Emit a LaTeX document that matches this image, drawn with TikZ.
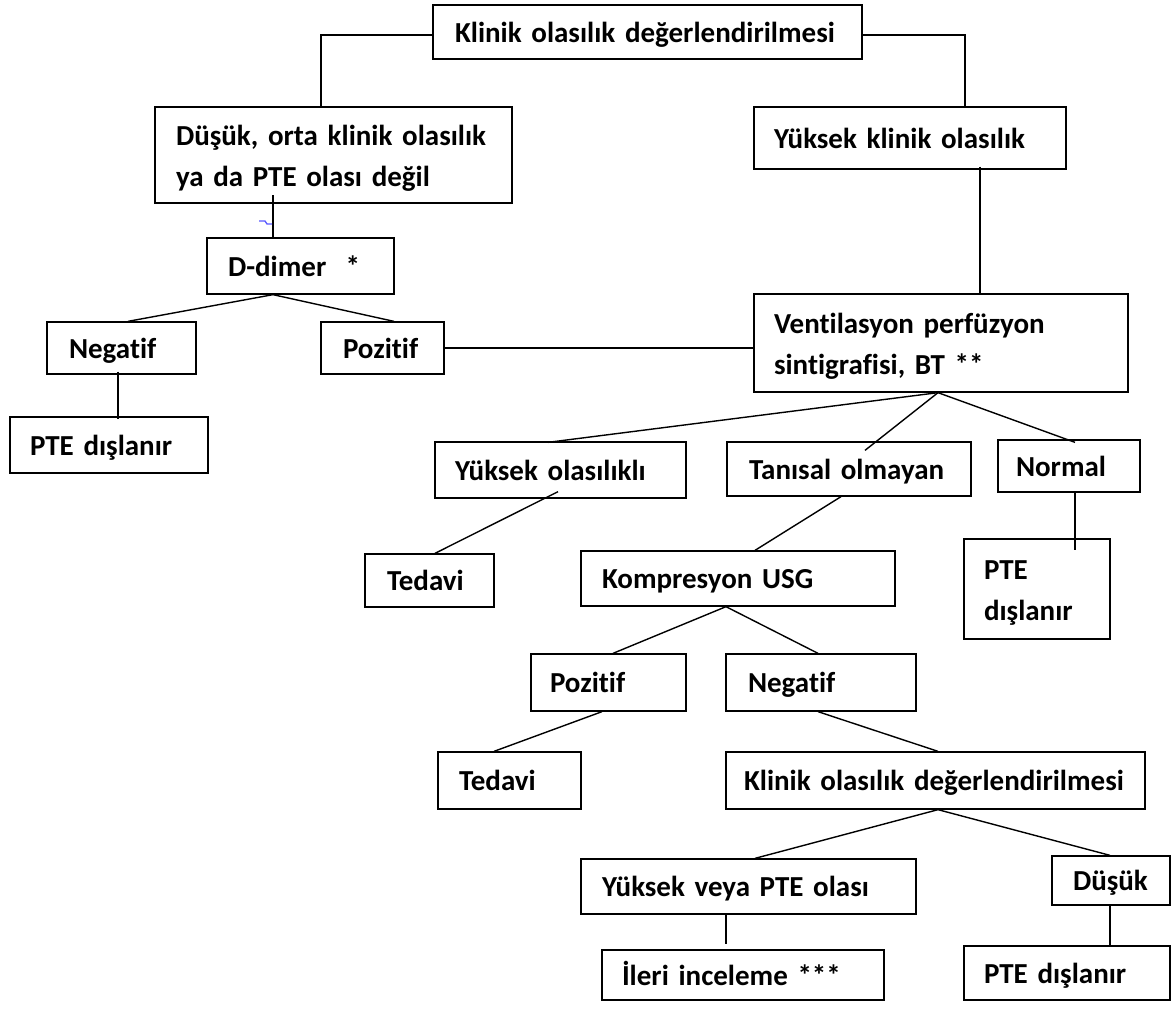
\documentclass[tikz,border=0pt]{standalone}
\usepackage{fontspec}
\setmainfont{Carlito}[Ligatures={NoCommon}]
\newcommand{\bxstrut}{\rule[-6pt]{0pt}{32pt}}
\begin{document}
\begin{tikzpicture}[x=1pt,y=-1pt,
  bx/.style={draw=black, line width=1.3pt, align=left, inner ysep=0pt, anchor=center,
    font=\fontsize{29}{41}\selectfont\bfseries, execute at begin node={\bxstrut}},
  ln/.style={line width=1.4pt, draw=black}]
\useasboundingbox (0,0) rectangle (1173,1015);
\node[bx, text width=385pt, inner xsep=22pt, minimum height=54pt] (top) at (647.5,32) {Klinik olasılık değerlendirilmesi};
\node[bx, text width=315pt, inner xsep=21pt, minimum height=96pt] (dusuk) at (333.5,155) {Düşük, orta klinik olasılık\\ya da PTE olası değil};
\node[bx, text width=272pt, inner xsep=20pt, minimum height=62pt] (yk) at (910,138) {Yüksek klinik olasılık};
\node[bx, text width=145pt, inner xsep=21pt, minimum height=56pt] (ddimer) at (300.5,266) {D-dimer\ \ *};
\node[bx, text width=105pt, inner xsep=22pt, minimum height=52pt] (negA) at (121.5,348) {Negatif};
\node[bx, text width=79pt, inner xsep=22pt, minimum height=52pt] (pozA) at (382.5,348) {Pozitif};
\node[bx, text width=158pt, inner xsep=20pt, minimum height=56pt] (pteA) at (109,445) {PTE dışlanır};
\node[bx, text width=334pt, inner xsep=20pt, minimum height=98pt] (vent) at (941,343) {Ventilasyon perfüzyon\\sintigrafisi, BT **};
\node[bx, text width=211pt, inner xsep=20pt, minimum height=56pt] (yol) at (560.5,470) {Yüksek olasılıklı};
\node[bx, text width=200pt, inner xsep=22pt, minimum height=54pt] (tan) at (849,469) {Tanısal olmayan};
\node[bx, text width=106pt, inner xsep=18pt, minimum height=52pt] (normal) at (1069,466) {Normal};
\node[bx, text width=85pt, inner xsep=22pt, minimum height=53pt] (tedA) at (429.5,580.5) {Tedavi};
\node[bx, text width=272pt, inner xsep=21pt, minimum height=55pt] (komp) at (738,578.5) {Kompresyon USG};
\node[bx, text width=106pt, inner xsep=20pt, minimum height=100pt] (pteB) at (1037,589) {PTE\\dışlanır};
\node[bx, text width=117pt, inner xsep=19pt, minimum height=57pt] (pozB) at (608.5,682.5) {Pozitif};
\node[bx, text width=146pt, inner xsep=22pt, minimum height=57pt] (negB) at (821,682.5) {Negatif};
\node[bx, text width=101pt, inner xsep=21pt, minimum height=57pt] (tedB) at (509.5,780.5) {Tedavi};
\node[bx, text width=383pt, inner xsep=18pt, minimum height=57pt] (klinB) at (935.5,780.5) {Klinik olasılık değerlendirilmesi};
\node[bx, text width=293pt, inner xsep=21pt, minimum height=55pt] (yv) at (748.5,886.5) {Yüksek veya PTE olası};
\node[bx, text width=76pt, inner xsep=21pt, minimum height=49pt] (dusB) at (1111,880.5) {Düşük};
\node[bx, text width=242pt, inner xsep=20pt, minimum height=50pt] (ileri) at (743,975) {İleri inceleme ***};
\node[bx, text width=166pt, inner xsep=20pt, minimum height=54pt] (pteC) at (1067,973) {PTE dışlanır};
% connectors
\draw[ln] ([yshift=-3pt]top.west) -| ([xshift=-12.5pt]dusuk.north);
\draw[ln] ([yshift=-3pt]top.east) -| ([xshift=55pt]yk.north);
\draw[ln] ([xshift=-27.5pt]ddimer.north) -- ++(0,-42);
\draw[blue!65!white, line width=1.3pt] (259,221) -- (265,221) -- (267,224) -- (272,224);
\draw[ln] ([xshift=6.5pt]negA.north) -- ([xshift=-27.5pt]ddimer.south) -- ([xshift=11.5pt]pozA.north);
\draw[ln] ([xshift=-3.5pt,yshift=3pt]negA.south) -- ([xshift=9pt,yshift=-3pt]pteA.north);
\draw[ln] (pozA.east) -- (pozA.east -| vent.west);
\draw[ln] ([xshift=70pt,yshift=3pt]yk.south) -- ([xshift=39pt]vent.north);
\draw[ln] ([xshift=-3pt]vent.south) -- ([xshift=-12.5pt,yshift=-1pt]yol.north);
\draw[ln] ([xshift=-3pt]vent.south) -- ([xshift=16pt,yshift=-9pt]tan.north);
\draw[ln] ([xshift=-3pt]vent.south) -- ([xshift=6pt,yshift=-3pt]normal.north);
\draw[ln] ([xshift=-2.5pt,yshift=7pt]yol.south) -- ([xshift=5.5pt]tedA.north);
\draw[ln] ([xshift=-8pt]tan.south) -- ([xshift=17pt]komp.north);
\draw[ln] ([xshift=6pt]normal.south) -- ([xshift=38pt,yshift=-12pt]pteB.north);
\draw[ln] ([xshift=4.5pt]pozB.north) -- ([xshift=-12pt]komp.south) -- ([xshift=-3pt]negB.north);
\draw[ln] ([xshift=-6.5pt]pozB.south) -- ([xshift=-15.5pt]tedB.north);
\draw[ln] ([xshift=-3pt]negB.south) -- ([xshift=2.5pt]klinB.north);
\draw[ln] ([xshift=6.5pt]yv.north) -- ([xshift=2.5pt]klinB.south) -- ([xshift=-1pt]dusB.north);
\draw[ln] ([xshift=-22.5pt]yv.south) -- ([xshift=-17pt,yshift=5pt]ileri.north);
\draw[ln] ([xshift=-1pt]dusB.south) -- ([xshift=43pt]pteC.north);
\end{tikzpicture}
\end{document}
